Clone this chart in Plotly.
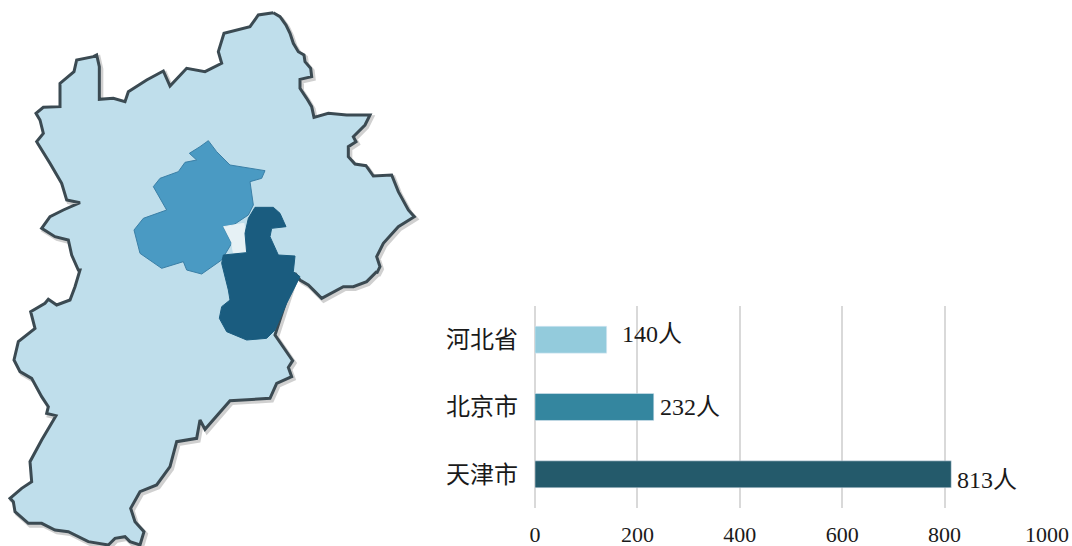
import plotly.graph_objects as go

# Bar chart data
regions = ["河北省", "北京市", "天津市"]
people = [140, 232, 813]
value_labels = ["140人", "232人", "813人"]
tick_values = [0, 200, 400, 600, 800, 1000]

# Map outlines (3x-pixel map units)
hebei_x = [820,840,858,870,880,895,912,915,932,935,900,900,920,935,942,985,1040,1110,1095,1060,1068,1045,1045,1065,1098,1120,1175,1195,1225,1243,1195,1150,1130,1140,1130,
           1130,1100,1060,1030,965,945,925,900,885,825,855,878,865,875,830,810,690,615,600,590,530,510,470,420,392,405,432,420,390,375,345,325,265,205,165,125,85,45,40,30,65,95,90,125,168,140,145,125,95,60,42,55,105,92,135,145,170,210,225,240,
           235,215,205,165,125,150,190,240,200,185,150,110,130,120,108,130,180,180,222,230,280,290,298,298,340,375,385,440,490,510,560,615,665,655,672,750,775,820]
hebei_y = [38,50,75,100,130,155,165,185,205,230,238,265,295,320,352,340,345,345,375,410,425,440,470,492,497,528,525,575,630,650,680,730,770,800,820,
           815,845,860,860,895,875,855,840,820,1005,1050,1082,1102,1130,1150,1195,1202,1288,1260,1315,1325,1400,1455,1475,1525,1565,1595,1635,1625,1610,1615,1635,1625,1595,1590,1570,1570,1535,1505,1495,1465,1445,1385,1320,1247,1240,1220,1190,1135,1115,1080,1025,985,935,910,898,915,900,860,810,
           810,765,720,710,685,650,630,608,600,550,490,425,400,360,340,322,320,250,215,180,170,165,200,298,295,305,275,240,213,258,205,215,190,155,100,80,45,38]
beijing_x = [625,650,690,795,785,750,760,745,700,670,695,665,605,560,550,485,420,402,430,500,460,480,535,555,590,568,600,625]
beijing_y = [422,455,495,512,535,545,615,645,675,680,730,780,822,810,785,805,760,690,655,630,560,535,515,487,480,460,440,422]
tianjin_x = [765,820,840,858,815,810,835,885,880,900,860,825,800,740,680,658,665,690,685,665,670,740,735,745,765]
tianjin_y = [622,622,640,680,685,710,765,768,815,830,910,990,1015,1020,995,955,920,900,870,790,765,758,700,655,622]
gap_x = [670,732,738,700,695]
gap_y = [680,670,755,758,730]

fig = go.Figure()

# Map (light drop shadow, then filled regions)
fig.add_trace(go.Scatter(x=[v + 6 for v in hebei_x], y=[v + 7 for v in hebei_y], mode="lines",
                         line=dict(color="rgba(120,120,120,0.35)", width=4), xaxis="x2", yaxis="y2",
                         hoverinfo="skip", showlegend=False))
fig.add_trace(go.Scatter(x=hebei_x, y=hebei_y, mode="lines", fill="toself", fillcolor="#bfdeeb",
                         line=dict(color="#3b4a52", width=3), xaxis="x2", yaxis="y2",
                         name="河北省", showlegend=False))
fig.add_trace(go.Scatter(x=beijing_x, y=beijing_y, mode="lines", fill="toself", fillcolor="#4a9ac3",
                         line=dict(color="#3a7fa6", width=1), xaxis="x2", yaxis="y2",
                         name="北京市", showlegend=False))
fig.add_trace(go.Scatter(x=gap_x, y=gap_y, mode="lines", fill="toself", fillcolor="#e6f1f5",
                         line=dict(color="#e6f1f5", width=1), xaxis="x2", yaxis="y2",
                         hoverinfo="skip", showlegend=False))
fig.add_trace(go.Scatter(x=tianjin_x, y=tianjin_y, mode="lines", fill="toself", fillcolor="#1a5c7f",
                         line=dict(color="#1a5c7f", width=1), xaxis="x2", yaxis="y2",
                         name="天津市", showlegend=False))

# Bars
fig.add_trace(go.Bar(x=people, y=regions, orientation="h", width=0.4,
                     marker=dict(color=["#93cbdc", "#34869f", "#245a6b"]), showlegend=False))

label_shift_x = [45, 36, 36]
label_shift_y = [6, 0, -6]
annotations = [
    dict(x=v, y=r, text=t, xref="x", yref="y", xanchor="center", yanchor="middle", showarrow=False,
         xshift=dx, yshift=dy, font=dict(family="Liberation Serif, Noto Sans CJK SC", size=24, color="#1a1a1a"))
    for v, r, t, dx, dy in zip(people, regions, value_labels, label_shift_x, label_shift_y)
]

font = dict(family="Liberation Serif, Noto Sans CJK SC", size=24, color="#1a1a1a")
tick_font = dict(family="Liberation Serif", size=22, color="#1a1a1a")
W, H = 1072, 546
fig.update_layout(
    width=W, height=H, margin=dict(l=0, r=0, t=0, b=0), paper_bgcolor="white", plot_bgcolor="rgba(0,0,0,0)",
    font=font, annotations=annotations, bargap=0.6, autosize=False,
    xaxis=dict(domain=[535 / W, 1047 / W], range=[0, 1000], tickvals=tick_values, showgrid=True,
               gridcolor="#d9d9d9", gridwidth=1.6, zeroline=True, zerolinecolor="#d9d9d9", zerolinewidth=1.6,
               showline=False, ticks="", ticklabelstandoff=11, tickfont=tick_font, anchor="y", automargin=False),
    yaxis=dict(domain=[1 - 508 / H, 1 - 306 / H], autorange=False, range=[2.5, -0.5], type="category",
               categoryorder="array", categoryarray=regions, showgrid=False, zeroline=False, showline=False, ticks="",
               ticklabelstandoff=16, tickfont=font, anchor="x", automargin=False),
    xaxis2=dict(domain=[0, 1], range=[0, W * 3], visible=False, anchor="y2", fixedrange=True),
    yaxis2=dict(domain=[0, 1], range=[H * 3, 0], visible=False, anchor="x2", fixedrange=True),
)

fig.write_html("out.html", config={"displayModeBar": False},
               post_script="document.documentElement.style.overflow='hidden';document.body.style.margin='0';")
